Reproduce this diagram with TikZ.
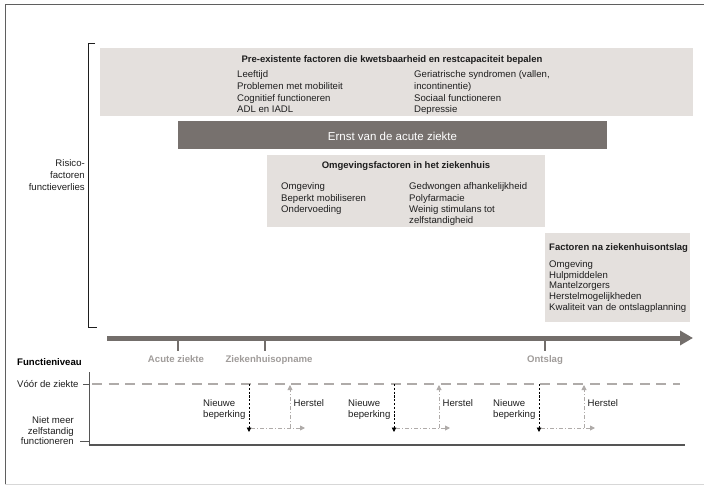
\documentclass[tikz,border=0pt]{standalone}
\usepackage{fontspec}
\setmainfont{Liberation Sans}
\usetikzlibrary{arrows.meta}
\definecolor{boxgray}{RGB}{228,224,221}
\definecolor{darkbox}{RGB}{119,113,110}
\definecolor{barcol}{RGB}{115,110,107}
\definecolor{labgray}{RGB}{160,156,154}
\definecolor{dashgray}{RGB}{175,171,169}
\definecolor{axiscol}{RGB}{85,85,85}
\definecolor{txt}{RGB}{30,30,30}
\definecolor{framecol}{RGB}{95,95,95}
\definecolor{lightframe}{RGB}{215,215,215}
\begin{document}
\begin{tikzpicture}[x=1pt,y=-1pt,
  box/.style={fill=boxgray, draw=none, inner sep=0pt, anchor=north west},
  body/.style={inner sep=0pt, text=txt, font=\fontsize{9.6}{11.7}\selectfont},
  ttl/.style={inner sep=0pt, text=txt, font=\fontsize{9.5}{11.5}\selectfont\bfseries},
  ticklab/.style={inner sep=0pt, text=labgray, font=\fontsize{9.6}{11.5}\selectfont\bfseries, anchor=north},
  droparrow/.style={black, line width=0.9pt, dash pattern=on 2.2pt off 1.6pt, -{Triangle[length=4.5pt,width=4.5pt]}},
  recarrow/.style={dashgray, line width=0.9pt, dash pattern=on 4pt off 2pt on 1pt off 2pt, -{Triangle[length=5pt,width=5pt]}}
]
\useasboundingbox (0,0) rectangle (704,486);
% frame
\draw[framecol, line width=1.3pt] (5.5,484) -- (5.5,4.5) -- (704,4.5);
\draw[lightframe, line width=1pt] (5,484.5) -- (704,484.5);

% bracket
\draw[txt, line width=0.8pt] (95,43.5) -- (88.5,43.5) -- (88.5,327.5) -- (97,327.5);
\node (risico) [body, anchor=north east, align=right, font=\fontsize{9.6}{12}\selectfont] at (85,159.5) {Risico-\\factoren\\functieverlies};

% box 1
\node (b1) [box, minimum width=593pt, minimum height=68pt] at (100,48) {};
\node (b1t) [ttl, anchor=base] at (392,62.5) {Pre-existente factoren die kwetsbaarheid en restcapaciteit bepalen};
\node (b1l) [body, anchor=north west, align=left] at (237,70.5) {Leeftijd\\Problemen met mobiliteit\\Cognitief functioneren\\ADL en IADL};
\node (b1r) [body, anchor=north west, align=left] at (414,70.5) {Geriatrische syndromen (vallen,\\incontinentie)\\Sociaal functioneren\\Depressie};

% Ernst box
\node (b2) [box, fill=darkbox, minimum width=429pt, minimum height=28pt] at (178,121) {};
\node (b2t) [inner sep=0pt, text=white, font=\fontsize{11.5}{13}\selectfont, anchor=base] at (392.5,140.5) {Ernst van de acute ziekte};

% box 3
\node (b3) [box, minimum width=278pt, minimum height=72pt] at (267,155) {};
\node (b3t) [ttl, anchor=base] at (406,168.5) {Omgevingsfactoren in het ziekenhuis};
\node (b3l) [body, anchor=north west, align=left, font=\fontsize{9.6}{11.4}\selectfont] at (281,182.5) {Omgeving\\Beperkt mobiliseren\\Ondervoeding};
\node (b3r) [body, anchor=north west, align=left, font=\fontsize{9.6}{11.4}\selectfont] at (409,182.5) {Gedwongen afhankelijkheid\\Polyfarmacie\\Weinig stimulans tot\\zelfstandigheid};

% box 4
\node (b4) [box, minimum width=145pt, minimum height=89pt] at (545,233) {};
\node (b4t) [ttl, anchor=base west] at (549,250.5) {Factoren na ziekenhuisontslag};
\node (b4l) [body, anchor=north west, align=left, font=\fontsize{9.6}{10.6}\selectfont] at (549,260.5) {Omgeving\\Hulpmiddelen\\Mantelzorgers\\Herstelmogelijkheden\\Kwaliteit van de ontslagplanning};

% timeline
\coordinate (tl0) at (107,338);
\coordinate (tl1) at (693,338);
\draw[barcol, line width=5pt, -{Triangle[length=13pt,width=14pt]}] (tl0) -- (tl1);
\coordinate (t1) at (178,338);
\coordinate (t2) at (265,338);
\coordinate (t3) at (545,338);
\draw[barcol, line width=1.6pt] (t1) -- ++(0,13);
\draw[barcol, line width=1.6pt] (t2) -- ++(0,13);
\draw[barcol, line width=1.6pt] (t3) -- ++(0,13);
\node (l1) [ticklab] at (176,355.5) {Acute ziekte};
\node (l2) [ticklab] at (269,355.5) {Ziekenhuisopname};
\node (l3) [ticklab] at (545,355.5) {Ontslag};

% function level axis
\node (fn) [inner sep=0pt, text=black, font=\fontsize{9.6}{11.5}\selectfont\bfseries, anchor=base west] at (17,365.8) {Functieniveau};
\node (voor) [body, anchor=base west] at (17,387.5) {Vóór de ziekte};
\node (niet) [body, anchor=north east, align=right, font=\fontsize{9.6}{10.6}\selectfont] at (74,416.5) {Niet meer\\zelfstandig\\functioneren};
\coordinate (ax0) at (89,372);
\coordinate (ax1) at (89,445);
\coordinate (ax2) at (685,445);
\draw[axiscol, line width=0.9pt] (ax0) -- (ax1);
\draw[axiscol, line width=1.8pt] (88.6,445) -- (ax2);
\draw[axiscol, line width=0.9pt] (83,384) -- (89,384);
\draw[axiscol, line width=0.9pt] (80,441.5) -- (89,441.5);
\coordinate (d0) at (92,384);
\coordinate (d1) at (680,384);
\draw[dashgray, line width=2.6pt, dash pattern=on 10pt off 6.6pt] (d0) -- (d1);

% drops and recoveries
\foreach \i/\xd/\xh/\xe/\xn in {1/249/290/305/203, 2/394/439/450/348, 3/539/584/595/493}{
  \coordinate (top\i) at (\xd,384);
  \coordinate (bot\i) at (\xd,432);
  \coordinate (hs\i) at (\xd+2,428);
  \coordinate (he\i) at (\xe,428);
  \coordinate (rb\i) at (\xh,428);
  \coordinate (rt\i) at (\xh,385);
  \draw[droparrow] (top\i) -- (bot\i);
  \draw[recarrow] (hs\i) -- (he\i);
  \draw[recarrow] (rb\i) -- (rt\i);
  \node (nb\i) [body, anchor=north west, align=left, font=\fontsize{9.6}{11}\selectfont] at (\xn,399.5) {Nieuwe\\beperking};
  \node (hr\i) [body, anchor=base west] at (\xh+3.5,406.5) {Herstel};
}
\end{tikzpicture}
\end{document}
